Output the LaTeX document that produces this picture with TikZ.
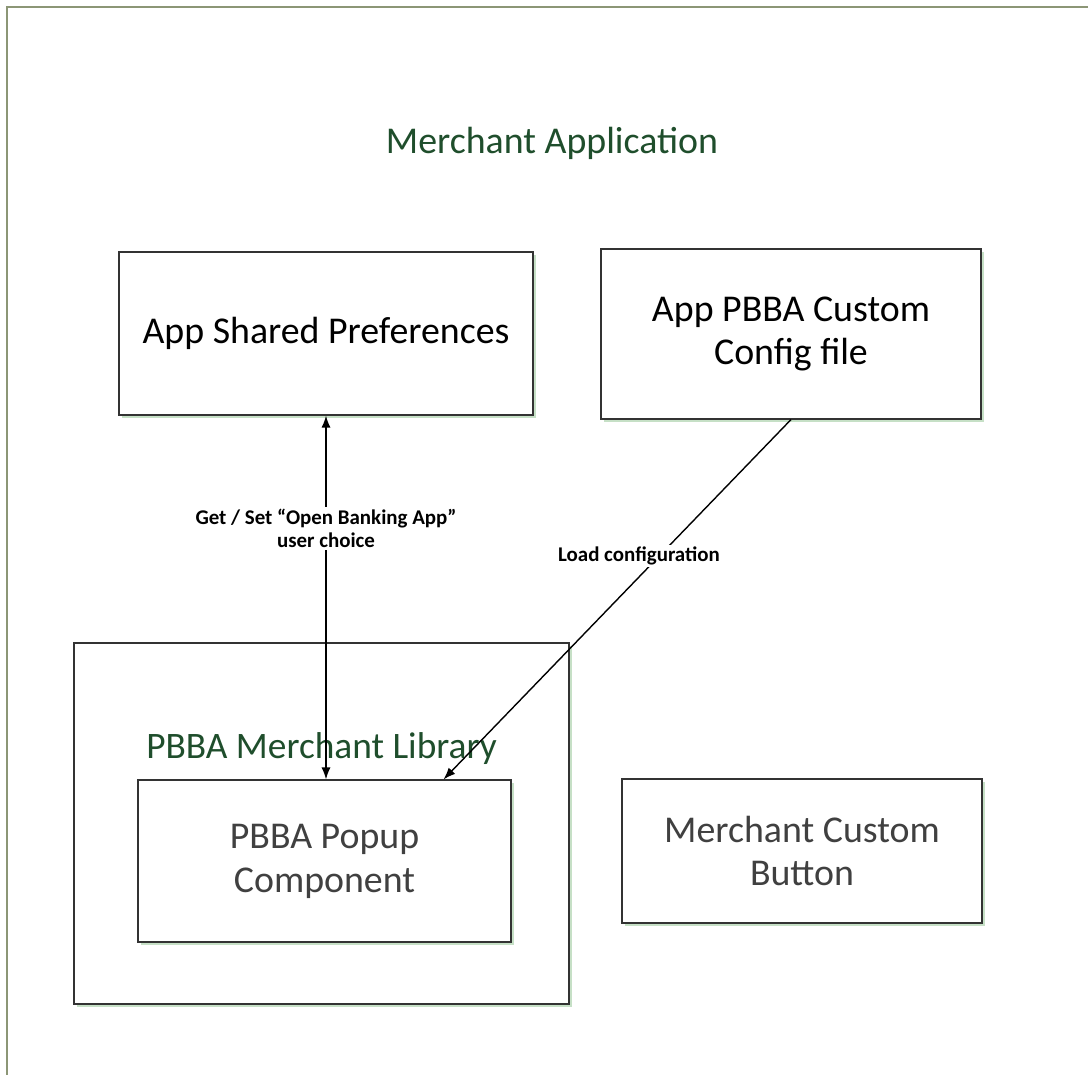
\documentclass[tikz,border=0pt]{standalone}
\usepackage{fontspec}
\setmainfont{Carlito}
\usepackage{xcolor}
\usetikzlibrary{positioning, arrows.meta, shadows}
\definecolor{titlegreen}{HTML}{1F4E2C}
\definecolor{shadowgreen}{HTML}{C6E0C6}
\definecolor{framegreen}{HTML}{8C9676}
\definecolor{textgray}{HTML}{404040}

\begin{document}
\begin{tikzpicture}[x=1bp,y=-1bp,
	box/.style={draw=black!80, line width=1.1bp, fill=white, inner sep=0pt, align=center,
		font=\fontsize{38}{44}\selectfont,
		general shadow={fill=shadowgreen, shadow xshift=3bp, shadow yshift=-3bp}},
	lbl/.style={fill=white, inner sep=2bp, align=center, font=\bfseries\fontsize{21}{24}\selectfont},
	link/.style={line width=1.4bp, >={Latex[length=12bp,width=9bp]}}]
	\useasboundingbox (0,0) rectangle (1088,1075);
	\draw[framegreen, line width=2bp] (7,1075) -- (7,7) -- (1088,7);
	\node[text=titlegreen, font=\fontsize{38}{44}\selectfont, anchor=base] (title) at (552,153) {Merchant Application};
	\node[box, minimum width=414bp, minimum height=163bp] at (326,333.5) (prefs) {App Shared Preferences};
	\node[box, minimum width=380bp, minimum height=170bp] at (791,334) (config) {App PBBA Custom\\Config file};
	\node[box, minimum width=495bp, minimum height=361bp] at (321.5,823.5) (library) {};
	\node[text=titlegreen, font=\fontsize{37.5}{44}\selectfont, anchor=base] at (321.5,758) (libname) {PBBA Merchant Library};
	\node[box, text=textgray, minimum width=373bp, minimum height=162bp] at (324.5,861) (popup) {PBBA Popup\\Component};
	\node[box, text=textgray, minimum width=360bp, minimum height=144bp] at (802,851) (button) {Merchant Custom\\Button};
	\draw[link,<->] (prefs.south) -- (prefs.south |- popup.north) node[lbl, pos=.31] {Get / Set “Open Banking App”\\user choice};
	\draw[link,->] (config.south) -- ([xshift=-68bp]popup.north east) node[lbl, pos=.38, xshift=-20bp] {Load configuration};
\end{tikzpicture}
\end{document}
